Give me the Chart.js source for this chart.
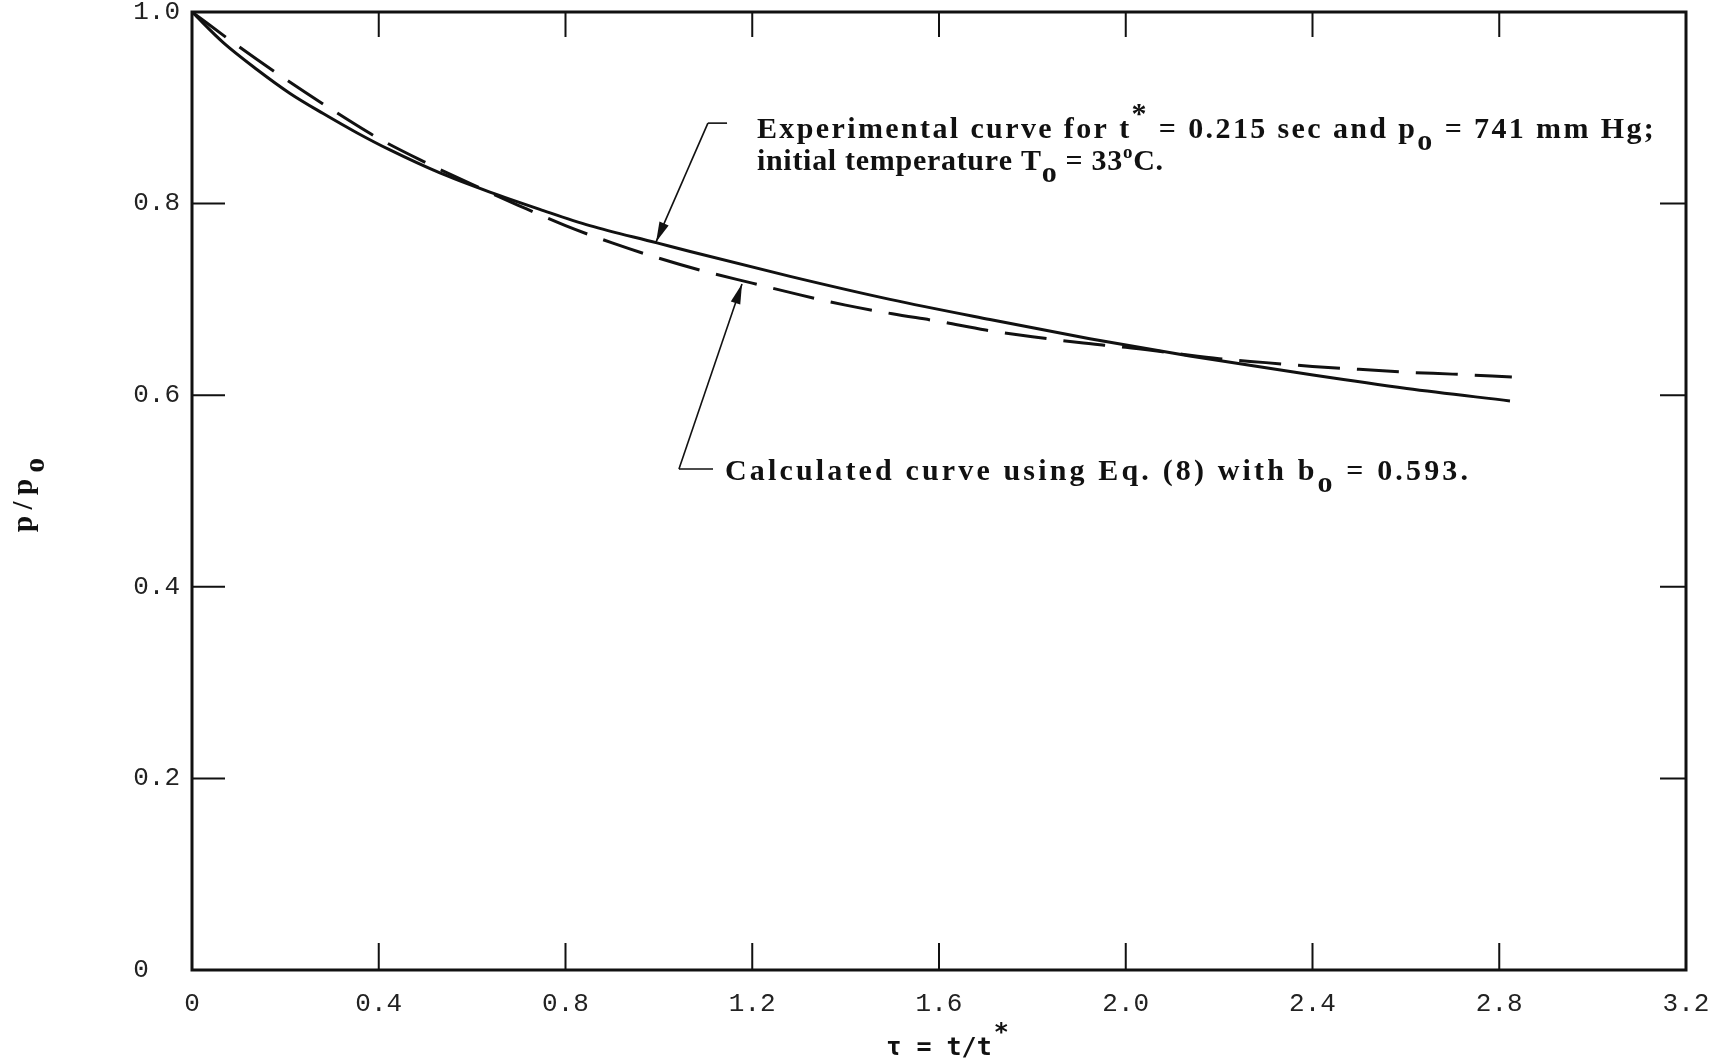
<!DOCTYPE html>
<html><head><meta charset="utf-8">
<script src="https://cdn.jsdelivr.net/npm/chart.js@4/dist/chart.umd.min.js"></script>
<style>html,body{margin:0;padding:0;background:#fff}#wrap{width:1720px;height:1064px}</style>
</head><body><div id="wrap"><canvas id="c" width="1720" height="1064"></canvas></div>
<script>
// ---- data ----
const tauExperimental = [0, 0.067, 0.139, 0.21, 0.281, 0.353, 0.424, 0.531, 0.638, 0.745, 0.852, 0.996, 1.067, 1.281, 1.495, 1.709, 1.923, 2.137, 2.401, 2.602, 2.823];
const pExperimental   = [1.0, 0.968, 0.940, 0.915, 0.894, 0.874, 0.856, 0.832, 0.812, 0.794, 0.777, 0.759, 0.750, 0.724, 0.700, 0.679, 0.659, 0.641, 0.621, 0.607, 0.594];
const tauCalculated   = [0, 0.1, 0.2, 0.3, 0.4, 0.5, 0.6, 0.7, 0.8, 0.9, 1.0, 1.1, 1.2, 1.3, 1.4, 1.5, 1.6, 1.7, 1.8, 1.9, 2.0, 2.1, 2.2, 2.3, 2.4, 2.5, 2.6, 2.7, 2.827];
const pCalculated     = [1.0, 0.964, 0.930, 0.898, 0.868, 0.843, 0.820, 0.798, 0.777, 0.759, 0.743, 0.729, 0.717, 0.705, 0.694, 0.685, 0.677, 0.668, 0.661, 0.655, 0.650, 0.644, 0.638, 0.634, 0.630, 0.627, 0.624, 0.622, 0.619];
const xTickLabels = ["0", "0.4", "0.8", "1.2", "1.6", "2.0", "2.4", "2.8", "3.2"];
const yTickLabels = ["0  ", "0.2", "0.4", "0.6", "0.8", "1.0"];

// ---- annotation layout (data units) ----
const upperNote = { tip:[0.994, 0.760], corner:[1.105, 0.884], barEnd:1.146, textX:1.21, line1Y:0.868, line2Y:0.835, line1Right:3.131, line2Right:2.080 };
const lowerNote = { tip:[1.178, 0.716], corner:[1.043, 0.523], barEnd:1.116, textX:1.1416, lineY:0.512, lineRight:2.733 };

const INK = '#111';
const TEXT_FONT = 'bold 30px "Liberation Serif"';
const SMALL_FONT = 'bold 19px "Liberation Serif"';

function drawRich(ctx, segs, x, y, right, font) {
  const chars = [];
  segs.forEach(s => { for (const ch of s.t) chars.push({ ch, k: s.k || 'n' }); });
  chars.forEach(c => {
    ctx.font = c.k === 'deg' ? SMALL_FONT : font;
    c.w = ctx.measureText(c.ch).width;
  });
  const natural = chars.reduce((a, c) => a + c.w, 0);
  const sp = right != null ? (right - x - natural) / (chars.length - 1) : 0;
  let cx = x;
  chars.forEach(c => {
    ctx.font = c.k === 'deg' ? SMALL_FONT : font;
    let dy = 0;
    if (c.k === 'sub') dy = 12;
    if (c.k === 'sup') dy = -15;
    if (c.k === 'deg') dy = -12;
    ctx.fillText(c.ch, cx, y + dy);
    cx += c.w + sp;
  });
}

function arrow(ctx, x0, y0, x1, y1) {
  ctx.beginPath(); ctx.moveTo(x0, y0); ctx.lineTo(x1, y1); ctx.stroke();
  const a = Math.atan2(y1 - y0, x1 - x0), L = 20, W = 5;
  ctx.beginPath();
  ctx.moveTo(x1, y1);
  ctx.lineTo(x1 - L * Math.cos(a) + W * Math.sin(a), y1 - L * Math.sin(a) - W * Math.cos(a));
  ctx.lineTo(x1 - L * Math.cos(a) - W * Math.sin(a), y1 - L * Math.sin(a) + W * Math.cos(a));
  ctx.closePath(); ctx.fill();
}

const decor = {
  id: 'decor',
  afterDraw(chart) {
    const ctx = chart.ctx, xs = chart.scales.x, ys = chart.scales.y, A = chart.chartArea;
    const X = v => xs.getPixelForValue(v), Y = v => ys.getPixelForValue(v);
    ctx.save();
    ctx.strokeStyle = INK; ctx.fillStyle = INK;
    ctx.lineWidth = 3;
    ctx.strokeRect(A.left, A.top, A.right - A.left, A.bottom - A.top);
    ctx.lineWidth = 2;
    xs.ticks.forEach(t => {
      if (t.value <= xs.min || t.value >= xs.max) return;
      const px = X(t.value);
      ctx.beginPath();
      ctx.moveTo(px, A.bottom); ctx.lineTo(px, A.bottom - 27);
      ctx.moveTo(px, A.top); ctx.lineTo(px, A.top + 25);
      ctx.stroke();
    });
    ys.ticks.forEach(t => {
      if (t.value <= ys.min || t.value >= ys.max) return;
      const py = Y(t.value);
      ctx.beginPath();
      ctx.moveTo(A.left, py); ctx.lineTo(A.left + 33, py);
      ctx.moveTo(A.right, py); ctx.lineTo(A.right - 26, py);
      ctx.stroke();
    });
    ctx.lineWidth = 1.6;
    [upperNote, lowerNote].forEach(n => {
      const cx = X(n.corner[0]), cy = Y(n.corner[1]);
      ctx.beginPath(); ctx.moveTo(cx, cy); ctx.lineTo(X(n.barEnd), cy); ctx.stroke();
      arrow(ctx, cx, cy, X(n.tip[0]), Y(n.tip[1]));
    });
    ctx.textAlign = 'left'; ctx.textBaseline = 'alphabetic';
    drawRich(ctx, [{t:'Experimental curve for t'}, {t:'*', k:'sup'}, {t:' = 0.215 sec and p'}, {t:'o', k:'sub'}, {t:' = 741 mm Hg;'}],
      X(upperNote.textX), Y(upperNote.line1Y), X(upperNote.line1Right), TEXT_FONT);
    drawRich(ctx, [{t:'initial temperature T'}, {t:'o', k:'sub'}, {t:' = 33'}, {t:'o', k:'deg'}, {t:'C.'}],
      X(upperNote.textX), Y(upperNote.line2Y), X(upperNote.line2Right), TEXT_FONT);
    drawRich(ctx, [{t:'Calculated curve using Eq. (8) with b'}, {t:'o', k:'sub'}, {t:' = 0.593.'}],
      X(lowerNote.textX), Y(lowerNote.lineY), X(lowerNote.lineRight), TEXT_FONT);
    const midX = (A.left + A.right) / 2;
    ctx.font = 'bold 25px "DejaVu Sans Mono"';
    const tt = 'τ = t/t';
    const tw = ctx.measureText(tt).width;
    ctx.fillText(tt, midX - tw / 2, 1055);
    ctx.fillText('*', midX + tw / 2 + 2, 1040);
    ctx.translate(32, 532);
    ctx.rotate(-Math.PI / 2);
    drawRich(ctx, [{t:'p/p'}, {t:'o', k:'sub'}], 0, 0, 74, 'bold 29px "Liberation Serif"');
    ctx.restore();
  }
};

new Chart(document.getElementById('c'), {
  type: 'line',
  data: {
    datasets: [
      { label: 'Experimental', data: tauExperimental.map((t, i) => ({ x: t, y: pExperimental[i] })),
        borderColor: INK, borderWidth: 3, pointRadius: 0, cubicInterpolationMode: 'monotone', fill: false },
      { label: 'Calculated', data: tauCalculated.map((t, i) => ({ x: t, y: pCalculated[i] })),
        borderColor: INK, borderWidth: 3, borderDash: [42, 17], pointRadius: 0, cubicInterpolationMode: 'monotone', fill: false }
    ]
  },
  options: {
    responsive: false, animation: false, devicePixelRatio: 1,
    layout: { padding: { left: 0, right: 34, top: 12, bottom: 0 } },
    plugins: { legend: { display: false }, tooltip: { enabled: false } },
    scales: {
      x: { type: 'linear', min: 0, max: 3.2,
        grid: { display: false, drawTicks: false }, border: { display: false },
        ticks: { stepSize: 0.4, autoSkip: false, maxRotation: 0, padding: 19, color: '#222',
          font: { family: '"Liberation Mono"', size: 26 },
          callback: (v, i) => xTickLabels[i] },
        afterFit: s => { s.height = 94; s.paddingLeft = 0; s.paddingRight = 0; } },
      y: { type: 'linear', min: 0, max: 1,
        grid: { display: false, drawTicks: false }, border: { display: false },
        ticks: { stepSize: 0.2, autoSkip: false, padding: 12, color: '#222',
          font: { family: '"Liberation Mono"', size: 26 },
          callback: (v, i) => yTickLabels[i] },
        afterFit: s => { s.width = 192; s.paddingTop = 0; s.paddingBottom = 0; } }
    }
  },
  plugins: [decor]
});
</script></body></html>
